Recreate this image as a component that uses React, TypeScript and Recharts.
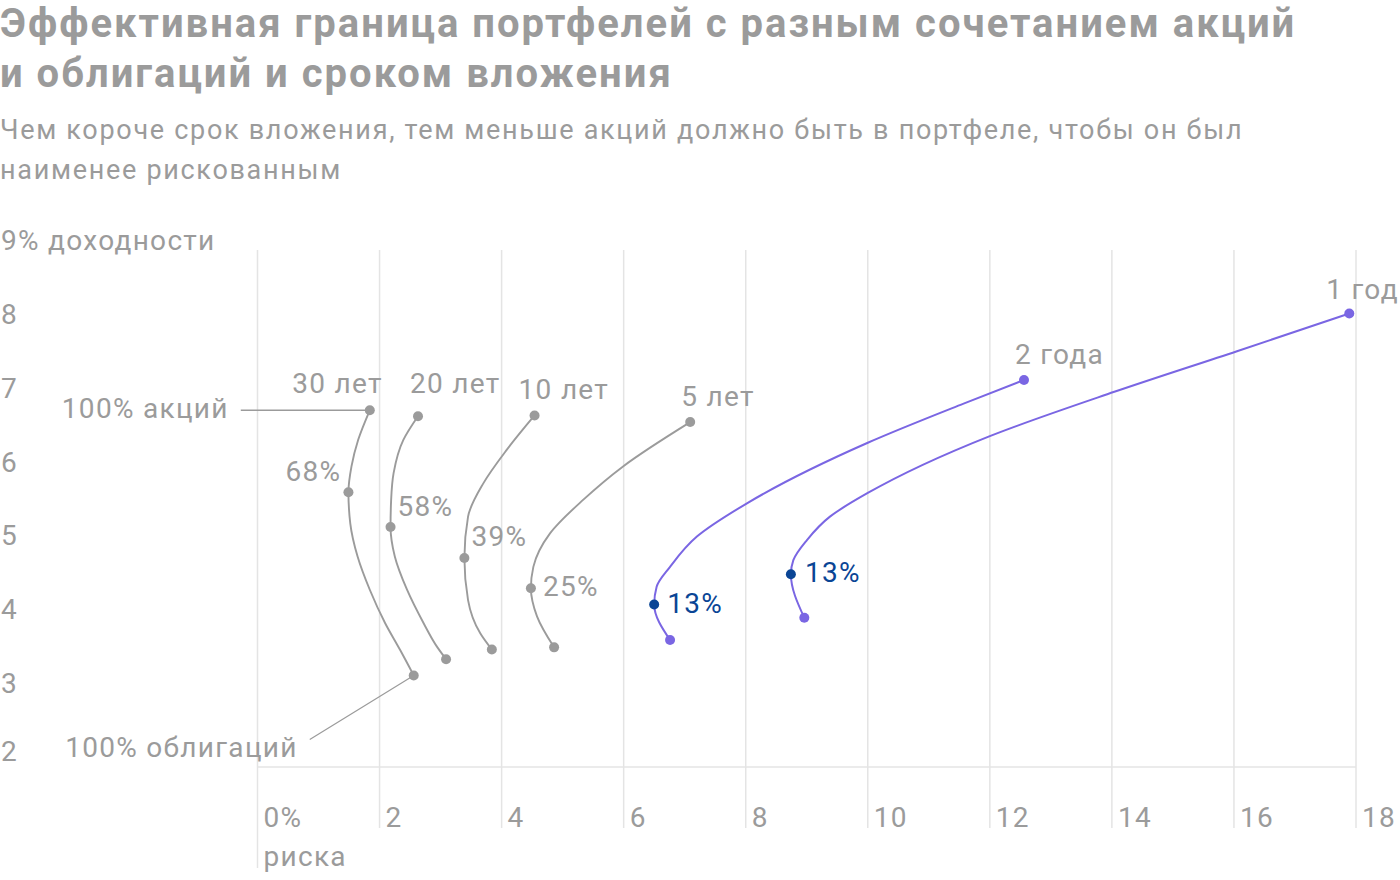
import React from 'react';
import { ComposedChart, Scatter, Line, XAxis, YAxis, ReferenceLine, CartesianGrid } from 'recharts';

// ---------- data ----------
const HORIZONS = ['30 лет', '20 лет', '10 лет', '5 лет', '2 года', '1 год'];

// each curve runs from 100% bonds (first) to 100% stocks (last)
const RISK_30Y = [2.56, 2.34, 2.09, 1.84, 1.64, 1.52, 1.49, 1.54, 1.65, 1.84];
const RETURN_30Y = [3.24, 3.58, 3.95, 4.4, 4.85, 5.3, 5.72, 6.07, 6.43, 6.83];

const RISK_20Y = [3.09, 2.94, 2.72, 2.45, 2.25, 2.18, 2.19, 2.23, 2.39, 2.63];
const RETURN_20Y = [3.46, 3.63, 3.95, 4.4, 4.85, 5.25, 5.62, 5.98, 6.43, 6.75];

const RISK_10Y = [3.84, 3.65, 3.45, 3.39, 3.45, 3.7, 4.08, 4.54];
const RETURN_10Y = [3.59, 3.81, 4.26, 4.83, 5.39, 5.84, 6.29, 6.76];

const RISK_5Y = [4.86, 4.58, 4.48, 4.52, 4.79, 5.34, 5.99, 7.09];
const RETURN_5Y = [3.62, 4.04, 4.42, 4.71, 5.16, 5.62, 6.07, 6.67];

const RISK_2Y = [6.76, 6.5, 6.54, 6.76, 7.2, 8.02, 10.0, 11.57, 12.56];
const RETURN_2Y = [3.72, 4.2, 4.44, 4.71, 5.12, 5.57, 6.39, 6.92, 7.24];

const RISK_1Y = [8.96, 8.74, 8.78, 9.0, 9.38, 10.0, 12.0, 14.04, 16.05, 17.89];
const RETURN_1Y = [4.02, 4.61, 4.8, 5.07, 5.39, 5.71, 6.48, 7.08, 7.63, 8.14];

// share of stocks in the least risky portfolio
const MIN_RISK_STOCK_SHARE = ['68%', '58%', '39%', '25%', '13%', '13%'];

const X_TICKS = [0, 2, 4, 6, 8, 10, 12, 14, 16, 18];
const Y_TICKS = [2, 3, 4, 5, 6, 7, 8, 9];
const X_FIRST_LABEL = ['0%', 'риска'];
const Y_TOP_LABEL = '9% доходности';
const STOCKS_LABEL = '100% акций';
const BONDS_LABEL = '100% облигаций';

const TITLE_LINES = [
  'Эффективная граница портфелей с разным сочетанием акций',
  'и облигаций и сроком вложения',
];
const SUBTITLE_LINES = [
  'Чем короче срок вложения, тем меньше акций должно быть в портфеле, чтобы он был',
  'наименее рискованным',
];

// ---------- styles / layout ----------
const FONT = 'Roboto, "Noto Sans", sans-serif';
const GRAY = '#9b9b9b';
const PURPLE = '#7a66e3';
const NAVY = '#0a4595';
const GRID = '#e4e4e4';
const PLOT_TOP = 250;
const PLOT_BOTTOM = 767;
const GRID_BOTTOM = 828;
const GRID_BOTTOM_ZERO = 868;
const X_LABEL_Y = 827;
const X_LABEL_Y2 = 866;
const PLOT_LEFT = 257.5;
const PLOT_BOTTOM_SPACE = 880 - PLOT_BOTTOM;

type Anchor = 'start' | 'end';
interface SeriesStyle {
  line: string;
  lineWidth: number;
  end: string;
  min: string;
  nameOff: { dx: number; dy: number; anchor: Anchor };
  shareOff: { dx: number; dy: number; anchor: Anchor };
}

const SERIES_STYLE: SeriesStyle[] = [
  { line: GRAY, lineWidth: 1.9, end: GRAY, min: GRAY, nameOff: { dx: 13, dy: -17, anchor: 'end' }, shareOff: { dx: -7, dy: -11, anchor: 'end' } },
  { line: GRAY, lineWidth: 1.9, end: GRAY, min: GRAY, nameOff: { dx: -8, dy: -23, anchor: 'start' }, shareOff: { dx: 7, dy: -11, anchor: 'start' } },
  { line: GRAY, lineWidth: 1.9, end: GRAY, min: GRAY, nameOff: { dx: -16, dy: -16, anchor: 'start' }, shareOff: { dx: 7, dy: -12, anchor: 'start' } },
  { line: GRAY, lineWidth: 1.9, end: GRAY, min: GRAY, nameOff: { dx: -9, dy: -16, anchor: 'start' }, shareOff: { dx: 12, dy: 8, anchor: 'start' } },
  { line: PURPLE, lineWidth: 2, end: PURPLE, min: NAVY, nameOff: { dx: -9, dy: -16, anchor: 'start' }, shareOff: { dx: 13, dy: 8, anchor: 'start' } },
  { line: PURPLE, lineWidth: 2, end: PURPLE, min: NAVY, nameOff: { dx: -23, dy: -15, anchor: 'start' }, shareOff: { dx: 14, dy: 8, anchor: 'start' } },
];

// ---------- build tables from the arrays ----------
const RISKS = [RISK_30Y, RISK_20Y, RISK_10Y, RISK_5Y, RISK_2Y, RISK_1Y];
const RETURNS = [RETURN_30Y, RETURN_20Y, RETURN_10Y, RETURN_5Y, RETURN_2Y, RETURN_1Y];

const CURVES = RISKS.map((risks, s) => risks.map((risk, i) => ({ risk, ret: RETURNS[s][i] })));

const MARKERS = CURVES.map((curve, s) => {
  let minIdx = 0;
  curve.forEach((p, i) => {
    if (p.risk < curve[minIdx].risk) minIdx = i;
  });
  return [
    { ...curve[0], role: 'bonds', series: s },
    { ...curve[minIdx], role: 'min', series: s },
    { ...curve[curve.length - 1], role: 'stocks', series: s },
  ];
});

const textStyle = { fontFamily: FONT, fontSize: 28, letterSpacing: '1.3px' };

const MarkerShape = (props: any) => {
  const { cx, cy, payload } = props;
  if (cx == null || cy == null || !payload) return <g />;
  const s: number = payload.series;
  const st = SERIES_STYLE[s];
  const role: string = payload.role;
  const color = role === 'min' ? st.min : st.end;
  return (
    <g>
      {s === 0 && role === 'stocks' && (
        <g>
          <line x1={cx - 129} y1={cy} x2={cx} y2={cy} stroke={GRAY} strokeWidth={1.5} />
          <text x={cx - 141} y={cy + 8} textAnchor="end" fill={GRAY} style={textStyle}>
            {STOCKS_LABEL}
          </text>
        </g>
      )}
      {s === 0 && role === 'bonds' && (
        <g>
          <line x1={cx - 104} y1={cy + 64} x2={cx} y2={cy} stroke={GRAY} strokeWidth={1.2} />
          <text x={cx - 116} y={cy + 82} textAnchor="end" fill={GRAY} style={textStyle}>
            {BONDS_LABEL}
          </text>
        </g>
      )}
      <circle cx={cx} cy={cy} r={5} fill={color} />
      {role === 'stocks' && (
        <text x={cx + st.nameOff.dx} y={cy + st.nameOff.dy} textAnchor={st.nameOff.anchor} fill={GRAY} style={textStyle}>
          {HORIZONS[s]}
        </text>
      )}
      {role === 'min' && (
        <text x={cx + st.shareOff.dx} y={cy + st.shareOff.dy} textAnchor={st.shareOff.anchor} fill={st.min} style={textStyle}>
          {MIN_RISK_STOCK_SHARE[s]}
        </text>
      )}
    </g>
  );
};

const XTick = (props: any) => {
  const { x, payload } = props;
  const v = payload.value;
  const first = v === X_TICKS[0];
  return (
    <g>
      <line x1={x} x2={x} y1={PLOT_BOTTOM} y2={first ? GRID_BOTTOM_ZERO : GRID_BOTTOM} stroke={GRID} strokeWidth={1.5} />
      <text x={x + 6} y={X_LABEL_Y} fill={GRAY} style={textStyle}>
        {first ? X_FIRST_LABEL[0] : String(v)}
      </text>
      {first && (
        <text x={x + 6} y={X_LABEL_Y2} fill={GRAY} style={textStyle}>
          {X_FIRST_LABEL[1]}
        </text>
      )}
    </g>
  );
};

const YTick = (props: any) => {
  const { y, payload } = props;
  const v = payload.value;
  const last = v === Y_TICKS[Y_TICKS.length - 1];
  const firstTick = v === Y_TICKS[0];
  return (
    <text x={1} y={y + (firstTick ? -6 : 0)} fill={GRAY} style={textStyle}>
      {last ? Y_TOP_LABEL : String(v)}
    </text>
  );
};

export default function App() {
  return (
    <div style={{ position: 'absolute', left: 0, top: 0, width: 1400, height: 880, background: '#fff', fontFamily: FONT }}>
      <div style={{ position: 'absolute', left: 0, top: -1, color: GRAY, fontWeight: 700, fontSize: 40, lineHeight: '50px', letterSpacing: '2px', whiteSpace: 'nowrap' }}>
        {TITLE_LINES.map((t) => (
          <div key={t}>{t}</div>
        ))}
      </div>
      <div style={{ position: 'absolute', left: 0, top: 110, color: GRAY, fontWeight: 400, fontSize: 27, lineHeight: '40px', letterSpacing: '1.7px', whiteSpace: 'nowrap' }}>
        {SUBTITLE_LINES.map((t) => (
          <div key={t}>{t}</div>
        ))}
      </div>
      <div style={{ position: 'absolute', left: 0, top: 0 }}>
        <ComposedChart width={1400} height={880} margin={{ top: PLOT_TOP, right: 44, bottom: 0, left: 0 }}>
          <CartesianGrid horizontal={false} vertical stroke={GRID} strokeWidth={1.5} />
          <XAxis
            type="number"
            dataKey="risk"
            domain={[0, 18]}
            ticks={X_TICKS}
            interval={0}
            axisLine={false}
            tickLine={false}
            height={PLOT_BOTTOM_SPACE}
            tick={<XTick />}
          />
          <YAxis
            type="number"
            dataKey="ret"
            domain={[2, 9]}
            ticks={Y_TICKS}
            interval={0}
            axisLine={false}
            tickLine={false}
            width={PLOT_LEFT}
            tick={<YTick />}
          />
          <ReferenceLine y={2} stroke={GRID} strokeWidth={1.5} />
          {CURVES.map((curve, s) => (
            <Line
              key={'curve' + s}
              data={curve}
              dataKey="ret"
              type="monotoneY"
              stroke={SERIES_STYLE[s].line}
              strokeWidth={SERIES_STYLE[s].lineWidth}
              dot={false}
              activeDot={false}
              isAnimationActive={false}
            />
          ))}
          {MARKERS.map((m, s) => (
            <Scatter key={'marker' + s} data={m} dataKey="ret" shape={MarkerShape} fill={SERIES_STYLE[s].end} isAnimationActive={false} />
          ))}
        </ComposedChart>
      </div>
    </div>
  );
}
